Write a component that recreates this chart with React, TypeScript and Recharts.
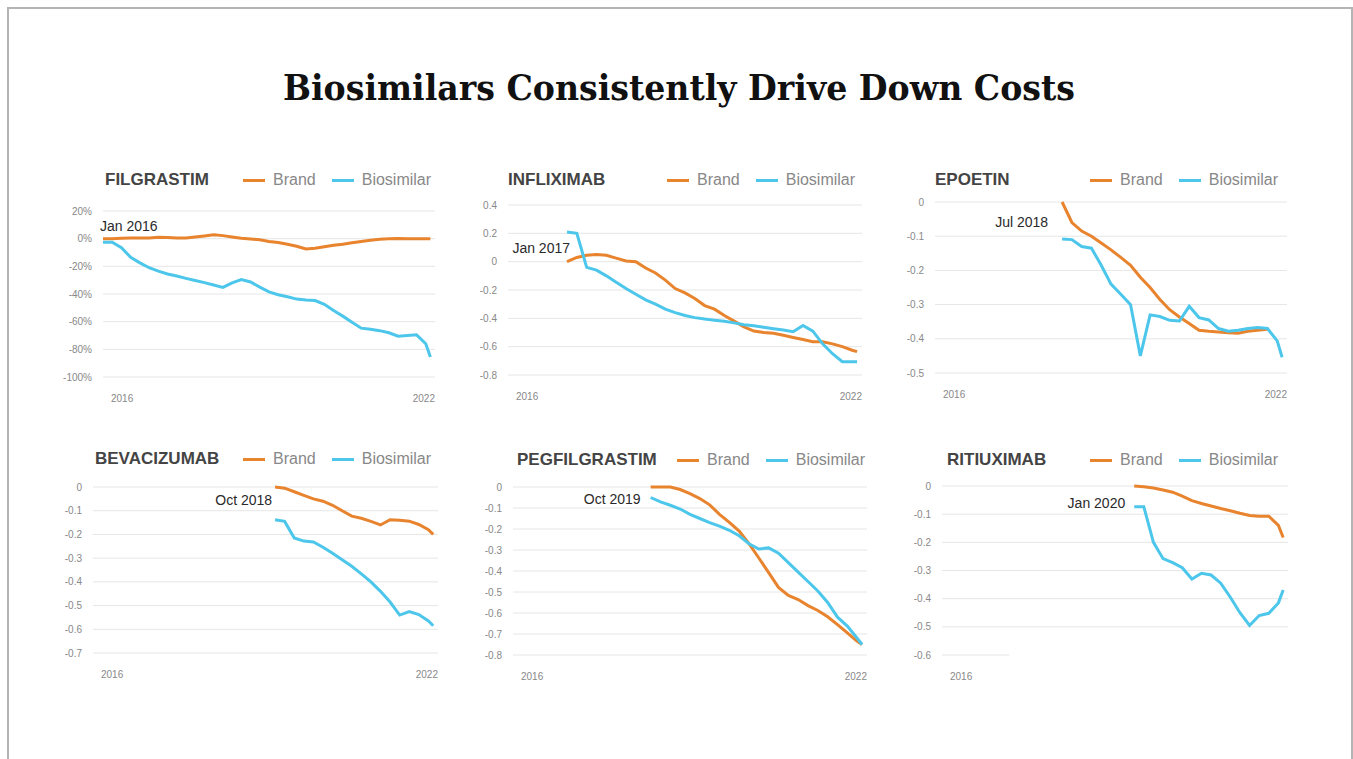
import React from 'react'
import { LineChart, Line, XAxis, YAxis, CartesianGrid, ReferenceDot, ReferenceLine } from 'recharts'

// month index from Jan 2016 (0) to about Dec 2021 (71)
const months = [0, 2, 4, 6, 8, 10, 12, 14, 16, 18, 20, 22, 24, 26, 28, 30, 32, 34, 36, 38, 40, 42, 44, 46, 48, 50, 52, 54, 56, 58, 60, 62, 64, 66, 68, 70, 71]

// FILGRASTIM, % change, from Jan 2016
const filgrastimBrand = [0, 0, 0.3, 0.5, 0.5, 0.5, 1, 0.8, 0.5, 0.5, 1.2, 2, 2.8, 2.2, 1.2, 0.3, -0.2, -0.8, -2, -2.8, -4, -5.5, -7.5, -7, -5.8, -4.8, -4, -3, -2, -1.2, -0.5, 0, 0.2, 0, 0, 0, 0]
const filgrastimBio = [-2.5, -2.5, -6.5, -13.5, -17.5, -21, -23.5, -25.5, -27, -28.7, -30.3, -31.8, -33.5, -35.2, -32, -29.5, -31.3, -35, -38.5, -40.5, -42, -43.7, -44.3, -44.7, -47.5, -52, -56, -60.5, -64.7, -65.5, -66.5, -68, -70.5, -70, -69.5, -76, -85.5]

// INFLIXIMAB, from month 12
const infliximabBrand = [0, 0.03, 0.045, 0.05, 0.045, 0.025, 0.005, 0, -0.045, -0.08, -0.13, -0.19, -0.22, -0.26, -0.31, -0.335, -0.38, -0.42, -0.46, -0.49, -0.5, -0.505, -0.52, -0.535, -0.55, -0.565, -0.565, -0.58, -0.6, -0.625, -0.635]
const infliximabBio = [0.21, 0.2, -0.04, -0.06, -0.1, -0.145, -0.19, -0.23, -0.27, -0.3, -0.335, -0.36, -0.38, -0.395, -0.405, -0.413, -0.42, -0.432, -0.445, -0.453, -0.463, -0.473, -0.483, -0.494, -0.45, -0.49, -0.58, -0.65, -0.706, -0.706, -0.706]

// EPOETIN, from month 26
const epoetinBrand = [0, -0.06, -0.085, -0.1, -0.12, -0.14, -0.162, -0.185, -0.22, -0.25, -0.285, -0.315, -0.336, -0.355, -0.375, -0.378, -0.38, -0.382, -0.384, -0.378, -0.375, -0.372]
const epoetinBio = [-0.108, -0.11, -0.13, -0.135, -0.185, -0.24, -0.27, -0.3, -0.45, -0.33, -0.335, -0.346, -0.348, -0.305, -0.338, -0.345, -0.37, -0.378, -0.375, -0.37, -0.367, -0.37, -0.406, -0.454]

// BEVACIZUMAB, from month 38
const bevacizumabBrand = [0, -0.005, -0.02, -0.035, -0.05, -0.06, -0.077, -0.1, -0.123, -0.132, -0.145, -0.16, -0.138, -0.14, -0.144, -0.158, -0.18, -0.2]
const bevacizumabBio = [-0.138, -0.145, -0.215, -0.228, -0.232, -0.254, -0.279, -0.307, -0.334, -0.366, -0.4, -0.44, -0.485, -0.54, -0.525, -0.538, -0.565, -0.585]

// PEGFILGRASTIM, from month 28
const pegfilgrastimBrand = [0, 0, 0, -0.012, -0.032, -0.055, -0.085, -0.13, -0.168, -0.21, -0.27, -0.338, -0.408, -0.478, -0.516, -0.536, -0.565, -0.588, -0.618, -0.655, -0.695, -0.735, -0.75]
const pegfilgrastimBio = [-0.05, -0.071, -0.087, -0.105, -0.13, -0.15, -0.17, -0.186, -0.206, -0.232, -0.27, -0.295, -0.29, -0.315, -0.36, -0.405, -0.45, -0.495, -0.55, -0.62, -0.662, -0.72, -0.75]

// RITIUXIMAB, from month 40
const rituximabBrand = [0, -0.003, -0.007, -0.014, -0.022, -0.036, -0.052, -0.062, -0.071, -0.08, -0.088, -0.097, -0.105, -0.107, -0.107, -0.14, -0.183]
const rituximabBio = [-0.074, -0.074, -0.2, -0.258, -0.272, -0.29, -0.33, -0.31, -0.316, -0.345, -0.395, -0.45, -0.495, -0.46, -0.452, -0.415, -0.369]

const yTicksPct = [20, 0, -20, -40, -60, -80, -100]
const yTicksInflix = [0.4, 0.2, 0, -0.2, -0.4, -0.6, -0.8]
const yTicksEpo = [0, -0.1, -0.2, -0.3, -0.4, -0.5]
const yTicksBeva = [0, -0.1, -0.2, -0.3, -0.4, -0.5, -0.6, -0.7]
const yTicksPeg = [0, -0.1, -0.2, -0.3, -0.4, -0.5, -0.6, -0.7, -0.8]
const yTicksRitu = [0, -0.1, -0.2, -0.3, -0.4, -0.5, -0.6]

const BRAND = '#E8832E'
const BIO = '#4CC6EA'
const FONT = '"Liberation Sans", Arial, sans-serif'

const align = (start: number, values: number[]) => {
  const s = months.indexOf(start)
  return months.map((_, i) => (i >= s && i - s < values.length ? values[i - s] : null))
}

const fmtPct = (v: number) => `${v}%`
const fmtDec = (v: number) => (v === 0 ? '0' : v.toFixed(1))

const panels = [
  {
    name: 'FILGRASTIM', brand: align(0, filgrastimBrand), bio: align(0, filgrastimBio),
    ticks: yTicksPct, fmt: fmtPct, xTicks: [0, 72],
    plot: { left: 103, top: 211, right: 435, bottom: 377 },
    head: { title: 105, legend: 243, y: 180 },
    note: { text: 'Jan 2016', x: 0, y: 9, anchor: 'start', dx: -3 },
  },
  {
    name: 'INFLIXIMAB', brand: align(12, infliximabBrand), bio: align(12, infliximabBio),
    ticks: yTicksInflix, fmt: fmtDec, xTicks: [0, 72],
    plot: { left: 508, top: 205, right: 862, bottom: 375 },
    head: { title: 508, legend: 667, y: 180 },
    note: { text: 'Jan 2017', x: 12, y: 0.095, anchor: 'end', dx: 3 },
  },
  {
    name: 'EPOETIN', brand: align(26, epoetinBrand), bio: align(26, epoetinBio),
    ticks: yTicksEpo, fmt: fmtDec, xTicks: [0, 72],
    plot: { left: 935, top: 202, right: 1287, bottom: 373 },
    head: { title: 935, legend: 1090, y: 180 },
    note: { text: 'Jul 2018', x: 26, y: -0.059, anchor: 'end', dx: -14 },
  },
  {
    name: 'BEVACIZUMAB', brand: align(38, bevacizumabBrand), bio: align(38, bevacizumabBio),
    ticks: yTicksBeva, fmt: fmtDec, xTicks: [0, 72],
    plot: { left: 93, top: 487, right: 438, bottom: 653 },
    head: { title: 95, legend: 243, y: 459 },
    note: { text: 'Oct 2018', x: 38, y: -0.056, anchor: 'end', dx: -3 },
  },
  {
    name: 'PEGFILGRASTIM', brand: align(28, pegfilgrastimBrand), bio: align(28, pegfilgrastimBio),
    ticks: yTicksPeg, fmt: fmtDec, xTicks: [0, 72],
    plot: { left: 513, top: 487, right: 867, bottom: 655 },
    head: { title: 517, legend: 677, y: 460 },
    note: { text: 'Oct 2019', x: 28, y: -0.058, anchor: 'end', dx: -10 },
  },
  {
    name: 'RITIUXIMAB', brand: align(40, rituximabBrand), bio: align(40, rituximabBio),
    ticks: yTicksRitu, fmt: fmtDec, xTicks: [0],
    plot: { left: 942, top: 486, right: 1288, bottom: 655 },
    head: { title: 947, legend: 1090, y: 460 },
    note: { text: 'Jan 2020', x: 40, y: -0.06, anchor: 'end', dx: -9 },
    shortBottom: true,
  },
]

function XTick(props: any) {
  const { x, y, payload } = props
  const first = payload.value === 0
  return (
    <text x={x + (first ? 8 : 3)} y={y + 19} textAnchor={first ? 'start' : 'end'} fontSize={10} fill="#888" fontFamily={FONT}>
      {first ? '2016' : '2022'}
    </text>
  )
}

function Panel({ p }: { p: any }) {
  const data = months.map((m, i) => ({ m, brand: p.brand[i], bio: p.bio[i] }))
  const w = p.plot.right - p.plot.left + 55
  const h = p.plot.bottom - p.plot.top + 40
  const lo = p.ticks[p.ticks.length - 1]
  const hi = p.ticks[0]
  const gridValues = p.shortBottom ? p.ticks.slice(0, -1) : p.ticks
  return (
    <>
      <div style={{ position: 'absolute', left: p.plot.left - 50, top: p.plot.top - 10 }}>
        <LineChart width={w} height={h} data={data} margin={{ top: 10, right: 5, left: 0, bottom: 0 }}>
          <CartesianGrid vertical={false} stroke="#e6e6e6" horizontalValues={gridValues} />
          <XAxis dataKey="m" type="number" domain={[0, 72]} ticks={p.xTicks} tick={<XTick />}
            axisLine={false} tickLine={false} height={30} tickMargin={0} />
          <YAxis type="number" domain={[lo, hi]} ticks={p.ticks} tickFormatter={p.fmt} interval={0}
            axisLine={false} tickLine={false} width={50} tickMargin={5}
            tick={{ fontSize: 10, fill: '#888', fontFamily: FONT }} />
          {p.shortBottom && (
            <ReferenceLine segment={[{ x: 0, y: lo }, { x: 14, y: lo }]} stroke="#e6e6e6" />
          )}
          <Line type="linear" dataKey="brand" name="Brand" stroke={BRAND} strokeWidth={3} dot={false} isAnimationActive={false} />
          <Line type="linear" dataKey="bio" name="Biosimilar" stroke={BIO} strokeWidth={3} dot={false} isAnimationActive={false} />
          <ReferenceDot x={p.note.x} y={p.note.y} r={0} fill="none" stroke="none"
            label={(lp: any) => (
              <text x={lp.viewBox.x + p.note.dx} y={lp.viewBox.y} dy="0.35em" textAnchor={p.note.anchor}
                fontSize={14} fill="#2a2a2a" fontFamily={FONT}>
                {p.note.text}
              </text>
            )} />
        </LineChart>
      </div>
      <div style={{ position: 'absolute', left: p.head.title, top: p.head.y - 10, height: 20, display: 'flex', alignItems: 'center',
        fontFamily: FONT, fontWeight: 'bold', fontSize: 17, color: '#444' }}>
        {p.name}
      </div>
      <div style={{ position: 'absolute', left: p.head.legend, top: p.head.y - 10, height: 20, display: 'flex', alignItems: 'center',
        fontFamily: FONT, fontSize: 16, color: '#888', whiteSpace: 'nowrap' }}>
        <span style={{ width: 22, height: 3, background: BRAND, marginRight: 8 }} />
        <span style={{ marginRight: 16 }}>Brand</span>
        <span style={{ width: 22, height: 3, background: BIO, marginRight: 8 }} />
        <span>Biosimilar</span>
      </div>
    </>
  )
}

export default function App() {
  return (
    <div style={{ position: 'relative', width: 1353, height: 759, overflow: 'hidden', background: '#fff' }}>
      <style>{'html,body{margin:0;padding:0;overflow:hidden;}'}</style>
      <div style={{ position: 'absolute', left: 7, top: 7, width: 1346, height: 800, border: '2px solid #b4b4b4', boxSizing: 'border-box' }} />
      <svg width={1353} height={130} style={{ position: 'absolute', left: 0, top: 0 }}>
        <text x={283} y={100} fontFamily='"DejaVu Serif", serif' fontWeight="bold" fontSize={36} fill="#111"
          textLength={792} lengthAdjust="spacingAndGlyphs">
          Biosimilars Consistently Drive Down Costs
        </text>
      </svg>
      {panels.map((p) => (
        <Panel key={p.name} p={p} />
      ))}
    </div>
  )
}
